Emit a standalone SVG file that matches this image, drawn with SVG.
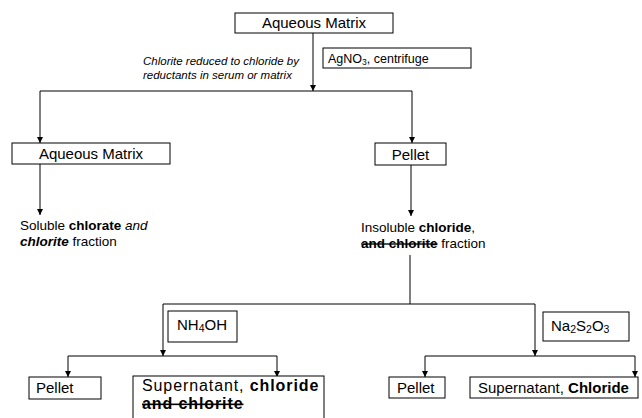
<svg xmlns="http://www.w3.org/2000/svg" width="642" height="418" viewBox="0 0 642 418">
<style>
text{font-family:"Liberation Sans",Arial,sans-serif;fill:#000}
.box{fill:#fff;stroke:#000;stroke-width:1}
.c{fill:none;stroke:#000;stroke-width:1}
.b{font-weight:bold}
.i{font-style:italic}
.s{text-decoration:line-through}
</style>
<defs>
<marker id="ah" viewBox="0 0 6 6" refX="6" refY="3" markerWidth="6" markerHeight="6" orient="auto" markerUnits="userSpaceOnUse">
<path d="M0,0 L6,3 L0,6 z" fill="#000"/>
</marker>
</defs>
<rect width="642" height="418" fill="#fff"/>
<g id="connectors">
<path class="c" d="M313,33 V91" marker-end="url(#ah)"/>
<path class="c" d="M40,91 H412"/>
<path class="c" d="M40,91 V143" marker-end="url(#ah)"/>
<path class="c" d="M412,91 V143" marker-end="url(#ah)"/>
<path class="c" d="M40,164 V215" marker-end="url(#ah)"/>
<path class="c" d="M411,165 V216" marker-end="url(#ah)"/>
<path class="c" d="M410,255 V304"/>
<path class="c" d="M163,304 H535"/>
<path class="c" d="M163,304 V356" marker-end="url(#ah)"/>
<path class="c" d="M535,304 V356" marker-end="url(#ah)"/>
<path class="c" d="M68,356 H277"/>
<path class="c" d="M68,356 V377" marker-end="url(#ah)"/>
<path class="c" d="M277,356 V377" marker-end="url(#ah)"/>
<path class="c" d="M425,356 H635"/>
<path class="c" d="M425,356 V377" marker-end="url(#ah)"/>
<path class="c" d="M635,356 V377" marker-end="url(#ah)"/>
</g>
<g id="top">
<rect class="box" x="235" y="13" width="158" height="20"/>
<text x="314" y="28" font-size="15" text-anchor="middle">Aqueous Matrix</text>
</g>
<g id="note">
<text class="i" x="143" y="65" font-size="11.5">Chlorite reduced to chloride by</text>
<text class="i" x="143" y="79" font-size="11.5">reductants in serum or matrix</text>
</g>
<g id="agno3">
<rect class="box" x="323" y="48" width="148" height="20"/>
<text x="328" y="63" font-size="12.5">AgNO<tspan font-size="8.5" dy="2">3</tspan><tspan dy="-2">, centrifuge</tspan></text>
</g>
<g id="aqueous2">
<rect class="box" x="12" y="143" width="158" height="21"/>
<text x="91" y="159" font-size="15" text-anchor="middle">Aqueous Matrix</text>
</g>
<g id="pellet1">
<rect class="box" x="375" y="143" width="71" height="22"/>
<text x="410.5" y="160" font-size="15" text-anchor="middle">Pellet</text>
</g>
<g id="soluble">
<text x="20" y="230" font-size="13.5">Soluble <tspan class="b">chlorate</tspan> <tspan class="i">and</tspan></text>
<text x="20" y="246" font-size="13.5"><tspan class="b i">chlorite</tspan> fraction</text>
</g>
<g id="insoluble">
<text x="361" y="232" font-size="13.5">Insoluble <tspan class="b">chloride</tspan>,</text>
<text x="361" y="248" font-size="13.5"><tspan class="b s">and chlorite</tspan> fraction</text>
</g>
<g id="nh4oh">
<rect class="box" x="168" y="311" width="69" height="31"/>
<text x="177" y="330" font-size="15">NH<tspan font-size="10.5" dy="2">4</tspan><tspan dy="-2">OH</tspan></text>
</g>
<g id="na2s2o3">
<rect class="box" x="543" y="312" width="86" height="29"/>
<text x="551" y="331" font-size="15">Na<tspan font-size="10.5" dy="2">2</tspan><tspan dy="-2">S</tspan><tspan font-size="10.5" dy="2">2</tspan><tspan dy="-2">O</tspan><tspan font-size="10.5" dy="2">3</tspan></text>
</g>
<g id="pellet2">
<rect class="box" x="29" y="377" width="72" height="22"/>
<text x="36" y="393" font-size="15">Pellet</text>
</g>
<g id="super1">
<rect class="box" x="133" y="376" width="191" height="60"/>
<text x="142" y="391" font-size="16" letter-spacing="0.9">Supernatant, <tspan class="b">chloride</tspan></text>
<text x="142" y="409" font-size="16" letter-spacing="0.9"><tspan class="b s">and chlorite</tspan></text>
</g>
<g id="pellet3">
<rect class="box" x="389" y="377" width="56" height="21"/>
<text x="397" y="393" font-size="15">Pellet</text>
</g>
<g id="super2">
<rect class="box" x="470" y="377" width="168" height="21"/>
<text x="478" y="393" font-size="15">Supernatant, <tspan class="b">Chloride</tspan></text>
</g>
</svg>
